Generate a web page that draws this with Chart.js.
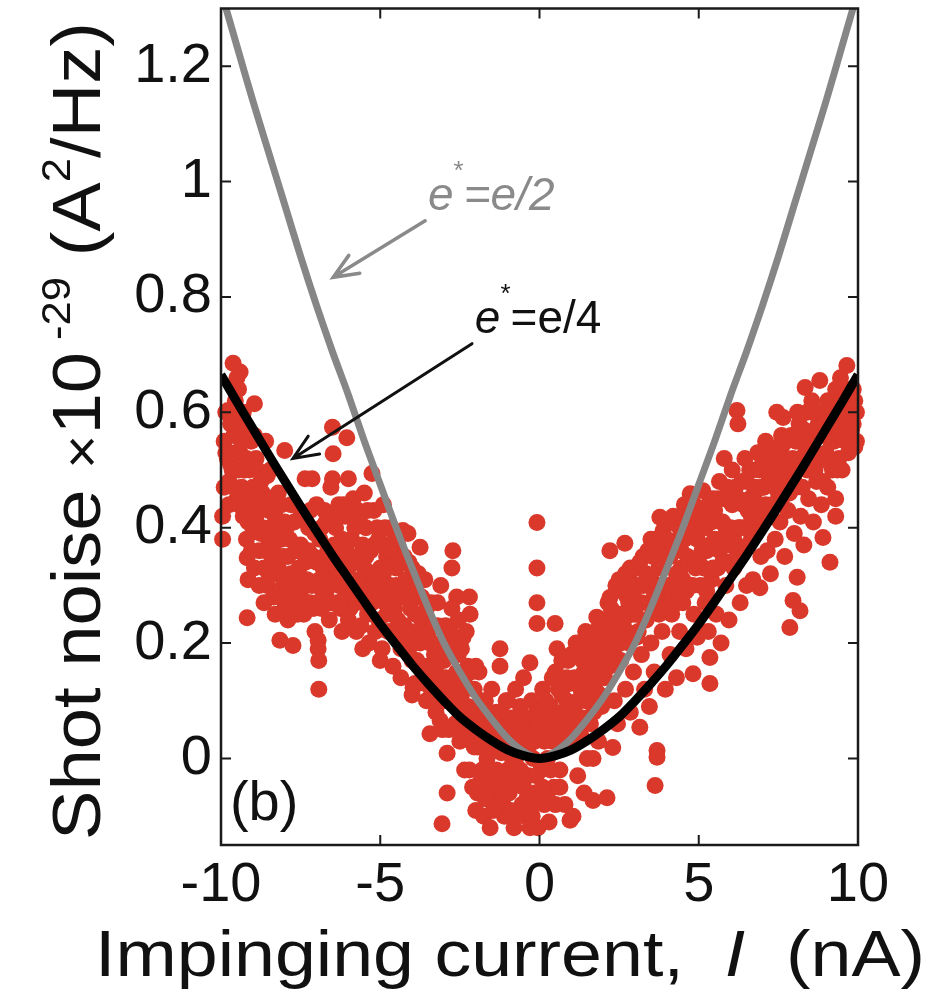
<!DOCTYPE html>
<html>
<head>
<meta charset="utf-8">
<script src="https://cdn.jsdelivr.net/npm/chart.js@4.4.1/dist/chart.umd.min.js"></script>
<style>
  html, body { margin: 0; padding: 0; background: #fff; }
  #wrap { width: 941px; height: 997px; }
</style>
</head>
<body>
<div id="wrap"><canvas id="brus" width="941" height="997"></canvas></div>
<script>
// Tick values on the two axes
const currentTicks = [-10, -5, 0, 5, 10];
const noiseTicks = [0, 0.2, 0.4, 0.6, 0.8, 1, 1.2];

// Theory curves (x in nA, y in 1e-29 A^2/Hz)
const curveCurrent = [-10, -9.5, -9, -8.5, -8, -7.5, -7, -6.5, -6, -5.5, -5, -4.5, -4, -3.5, -3, -2.5, -2, -1.5, -1, -0.5, 0,
                      0.5, 1, 1.5, 2, 2.5, 3, 3.5, 4, 4.5, 5, 5.5, 6, 6.5, 7, 7.5, 8, 8.5, 9, 9.5, 10];
const quarterCharge = [0.665, 0.618, 0.572, 0.526, 0.481, 0.437, 0.394, 0.352, 0.312, 0.272, 0.233, 0.197, 0.162, 0.13, 0.1, 0.072, 0.05, 0.031, 0.015, 0.005, 0,
                       0.005, 0.015, 0.031, 0.05, 0.072, 0.1, 0.13, 0.162, 0.197, 0.233, 0.272, 0.312, 0.352, 0.394, 0.437, 0.481, 0.526, 0.572, 0.618, 0.665];
const halfCharge = [1.33, 1.235, 1.14, 1.05, 0.96, 0.87, 0.785, 0.705, 0.63, 0.55, 0.475, 0.4, 0.33, 0.262, 0.2, 0.15, 0.105, 0.068, 0.035, 0.012, 0,
                    0.012, 0.035, 0.068, 0.105, 0.15, 0.2, 0.262, 0.33, 0.4, 0.475, 0.55, 0.63, 0.705, 0.785, 0.87, 0.96, 1.05, 1.14, 1.235, 1.33];

// Measured shot noise, [current, noise]
const measured = [
  [-9.95,0.42],[-9.95,0.38],[-9.9,0.55],[-9.85,0.6],[-9.8,0.52],[-9.75,0.48],[-9.7,0.58],[-9.65,0.5],[-9.62,0.685],[-9.6,0.56],[-9.55,0.62],[-9.5,0.45],[-9.5,0.66],
  [-9.45,0.64],[-9.4,0.67],[-9.4,0.53],[-9.35,0.47],[-9.3,0.6],[-9.3,0.42],[-9.25,0.5],[-9.2,0.38],[-9.18,0.348],[-9.15,0.31],[-9.18,0.244],[-9.1,0.45],[-9.05,0.55],[-9.0,0.4],
  [-8.95,0.615],[-8.9,0.52],[-8.85,0.44],[-8.8,0.36],[-8.75,0.48],[-8.7,0.4],[-8.65,0.33],[-8.6,0.55],[-8.55,0.3],[-8.5,0.43],[-8.5,0.38],
  [-8.45,0.5],[-8.4,0.35],[-8.35,0.28],[-8.3,0.42],[-8.25,0.32],[-8.2,0.46],[-8.15,0.205],[-8.1,0.38],[-8.05,0.3],[-8.0,0.534],[-8.0,0.26],
  [-7.95,0.4],[-7.9,0.35],[-7.85,0.28],[-7.8,0.44],[-7.74,0.196],[-7.7,0.3],[-7.65,0.37],[-7.6,0.25],[-7.55,0.33],[-7.5,0.42],[-7.5,0.29],
  [-7.45,0.36],[-7.4,0.25],[-7.36,0.485],[-7.3,0.31],[-7.25,0.4],[-7.2,0.27],[-7.14,0.485],[-7.1,0.35],[-7.05,0.22],[-7.0,0.44],[-7.0,0.3],
  [-6.95,0.205],[-6.95,0.19],[-6.93,0.17],[-6.93,0.12],[-6.9,0.38],[-6.85,0.26],[-6.8,0.33],[-6.75,0.43],[-6.7,0.29],[-6.65,0.36],[-6.6,0.24],[-6.55,0.47],[-6.5,0.574],[-6.48,0.528],[-6.5,0.485],
  [-6.45,0.31],[-6.4,0.4],[-6.35,0.27],[-6.3,0.44],[-6.25,0.35],[-6.2,0.22],[-6.15,0.3],[-6.1,0.42],[-6.05,0.556],[-6.0,0.485],[-6.0,0.33],
  [-5.95,0.26],[-5.9,0.38],[-5.85,0.45],[-5.8,0.3],[-5.75,0.22],[-5.7,0.35],[-5.65,0.41],[-5.6,0.28],[-5.55,0.19],[-5.5,0.33],[-5.5,0.46],
  [-5.45,0.4],[-5.4,0.25],[-5.35,0.3],[-5.3,0.36],[-5.26,0.494],[-5.2,0.43],[-5.15,0.22],[-5.1,0.29],[-5.05,0.38],[-5.0,0.33],[-5.0,0.17],
  [-4.94,0.19],[-4.9,0.44],[-4.85,0.27],[-4.8,0.35],[-4.75,0.22],[-4.7,0.3],[-4.65,0.4],[-4.6,0.16],[-4.55,0.26],[-4.5,0.33],[-4.5,0.21],
  [-4.45,0.37],[-4.4,0.29],[-4.35,0.14],[-4.29,0.395],[-4.25,0.23],[-4.2,0.31],[-4.13,0.39],[-4.1,0.18],[-4.05,0.26],[-4.0,0.11],[-4.0,0.33],
  [-3.97,0.123],[-3.91,0.13],[-3.9,0.2],[-3.85,0.28],[-3.75,0.366],[-3.7,0.24],[-3.65,0.16],[-3.6,0.31],[-3.55,0.1],[-3.5,0.21],[-3.44,0.043],
  [-3.4,0.27],[-3.35,0.14],[-3.3,0.18],[-3.25,0.08],[-3.2,0.23],[-3.12,0.066],[-3.1,0.3],[-3.06,-0.113],[-3.05,0.12],[-3.0,0.17],
  [-2.9,0.009],[-2.9,-0.06],[-2.85,0.1],[-2.8,0.22],[-2.75,0.33],[-2.72,0.36],[-2.7,0.14],[-2.65,0.06],[-2.6,0.28],[-2.55,0.18],[-2.5,0.03],
  [-2.45,0.11],[-2.4,0.21],[-2.35,-0.02],[-2.3,0.06],[-2.25,0.16],[-2.2,0.28],[-2.18,0.25],[-2.15,0.04],[-2.1,-0.05],[-2.05,0.12],[-2.0,0.08],[-2.0,-0.09],
  [-1.95,0.02],[-1.9,0.15],[-1.85,-0.04],[-1.8,0.07],[-1.75,-0.1],[-1.7,0.1],[-1.65,0.0],[-1.6,0.05],[-1.55,-0.12],[-1.5,0.12],[-1.5,-0.06],
  [-1.45,0.03],[-1.4,-0.03],[-1.35,0.08],[-1.3,-0.08],[-1.24,0.19],[-1.24,0.16],[-1.2,0.01],[-1.15,0.06],[-1.1,-0.1],[-1.05,0.1],[-1.0,-0.02],[-1.0,0.04],
  [-0.95,-0.06],[-0.9,0.07],[-0.85,0.0],[-0.8,-0.12],[-0.75,0.12],[-0.7,0.03],[-0.65,-0.04],[-0.6,0.09],[-0.55,-0.08],[-0.5,0.02],[-0.5,0.14],
  [-0.45,-0.1],[-0.4,0.05],[-0.35,-0.03],[-0.3,0.166],[-0.25,0.1],[-0.23,-0.1],[-0.2,0.0],[-0.15,-0.06],[-0.1,0.08],[-0.08,0.409],[-0.08,0.33],[-0.08,0.27],[-0.08,0.234],[-0.05,-0.12],[0.0,0.04],
  [0.05,-0.02],[0.1,0.12],[0.15,-0.08],[0.2,0.06],[0.25,0.0],[0.3,-0.11],[0.35,0.09],[0.4,0.03],[0.45,-0.05],[0.49,0.234],[0.5,0.15],
  [0.55,0.19],[0.6,0.07],[0.64,-0.05],[0.64,-0.02],[0.7,0.11],[0.75,0.02],[0.8,-0.08],[0.85,0.14],[0.9,0.17],[0.96,-0.107],[1.0,0.05],
  [1.05,-0.1],[1.1,0.09],[1.15,0.2],[1.2,-0.03],[1.25,0.13],[1.3,0.04],[1.35,0.17],[1.4,-0.06],[1.45,0.22],[1.5,0.1],[1.5,0.0],
  [1.55,0.15],[1.6,0.06],[1.68,0.0],[1.68,-0.073],[1.7,0.2],[1.75,0.12],[1.8,0.245],[1.85,0.03],[1.9,0.17],[1.95,0.09],[2.0,0.22],
  [2.05,0.14],[2.12,-0.068],[2.15,0.27],[2.21,0.36],[2.21,0.279],[2.25,0.19],[2.3,0.019],[2.35,0.1],[2.4,0.24],[2.45,0.06],[2.5,0.31],
  [2.55,0.17],[2.6,0.23],[2.68,0.373],[2.7,0.12],[2.75,0.28],[2.8,0.2],[2.84,0.309],[2.85,0.08],[2.9,0.25],[2.95,0.15],[3.0,0.33],
  [3.05,0.21],[3.1,0.27],[3.15,0.054],[3.2,0.18],[3.25,0.35],[3.3,0.12],[3.35,0.24],[3.4,0.3],[3.45,0.09],[3.5,0.2],[3.5,0.38],
  [3.55,0.26],[3.6,0.15],[3.63,-0.047],[3.69,0.014],[3.69,0.002],[3.75,0.33],[3.78,0.418],[3.78,0.331],[3.85,0.22],[3.88,0.395],[3.95,0.12],[4.0,0.28],
  [4.05,0.36],[4.1,0.18],[4.15,0.25],[4.2,0.42],[4.25,0.3],[4.3,0.14],[4.35,0.38],[4.4,0.22],[4.45,0.33],[4.5,0.27],
  [4.55,0.44],[4.6,0.19],[4.65,0.35],[4.73,0.459],[4.75,0.3],[4.82,0.147],[4.85,0.25],[4.9,0.4],[4.95,0.21],[5.0,0.34],
  [5.1,0.43],[5.1,0.4],[5.13,0.464],[5.13,0.424],[5.2,0.27],[5.25,0.36],[5.3,0.22],[5.35,0.13],[5.35,0.175],[5.4,0.31],[5.45,0.45],[5.5,0.38],
  [5.55,0.25],[5.6,0.33],[5.65,0.48],[5.7,0.2],[5.75,0.41],[5.8,0.52],[5.85,0.3],[5.9,0.37],[5.95,0.24],[6.0,0.45],
  [6.05,0.5],[6.1,0.33],[6.2,0.603],[6.23,0.58],[6.25,0.4],[6.3,0.27],[6.35,0.48],[6.4,0.36],[6.45,0.52],[6.5,0.3],
  [6.55,0.43],[6.6,0.5],[6.65,0.38],[6.7,0.31],[6.75,0.46],[6.8,0.4],[6.85,0.53],[6.92,0.296],[6.95,0.35],[7.0,0.47],
  [7.05,0.42],[7.1,0.55],[7.15,0.36],[7.2,0.49],[7.25,0.32],[7.3,0.44],[7.35,0.51],[7.4,0.38],[7.45,0.6],[7.5,0.46],
  [7.55,0.41],[7.6,0.56],[7.6,0.54],[7.65,0.591],[7.7,0.35],[7.75,0.48],[7.8,0.43],[7.86,0.227],[7.9,0.5],[7.96,0.274],[8.0,0.39],
  [8.05,0.47],[8.09,0.314],[8.1,0.6],[8.18,0.256],[8.2,0.42],[8.25,0.55],[8.3,0.37],[8.34,0.643],[8.4,0.5],[8.45,0.45],
  [8.55,0.62],[8.6,0.41],[8.65,0.53],[8.7,0.48],[8.75,0.58],[8.8,0.655],[8.85,0.44],[8.9,0.383],[8.95,0.52],[9.0,0.6],
  [9.05,0.47],[9.12,0.34],[9.15,0.55],[9.2,0.5],[9.25,0.62],[9.3,0.45],[9.3,0.42],[9.35,0.58],[9.4,0.52],[9.45,0.66],[9.5,0.5],
  [9.53,0.643],[9.55,0.56],[9.6,0.6],[9.65,0.681],[9.7,0.53],[9.75,0.62],[9.8,0.57],[9.85,0.64],[9.9,0.54],[9.95,0.6],
  // second sweep, fills the dense parts of the cloud
  [-9.9,0.47],[-9.85,0.53],[-9.78,0.603],[-9.75,0.44],[-9.7,0.51],[-9.65,0.58],[-9.6,0.47],[-9.55,0.53],[-9.5,0.58],[-9.45,0.5],[-9.45,0.44],
  [-9.4,0.59],[-9.35,0.55],[-9.3,0.5],[-9.25,0.57],[-9.25,0.44],[-9.2,0.52],[-9.15,0.41],[-9.1,0.5],[-9.05,0.36],[-9.0,0.47],[-8.95,0.56],
  [-8.95,0.33],[-8.9,0.42],[-8.85,0.5],[-8.8,0.3],[-8.75,0.39],[-8.7,0.46],[-8.65,0.27],[-8.6,0.36],[-8.6,0.44],[-8.55,0.49],[-8.5,0.32],
  [-8.45,0.4],[-8.4,0.45],[-8.35,0.36],[-8.3,0.25],[-8.25,0.4],[-8.2,0.33],[-8.15,0.28],[-8.1,0.44],[-8.05,0.35],[-8.0,0.41],[-7.95,0.3],
  [-7.9,0.24],[-7.85,0.38],[-7.8,0.32],[-7.75,0.27],[-7.7,0.41],[-7.65,0.31],[-7.6,0.36],[-7.55,0.27],[-7.5,0.37],[-7.45,0.3],[-7.4,0.42],
  [-7.35,0.34],[-7.3,0.27],[-7.25,0.36],[-7.2,0.43],[-7.15,0.3],[-7.1,0.26],[-7.05,0.39],[-7.0,0.34],[-6.95,0.27],[-6.9,0.31],[-6.85,0.4],
  [-6.8,0.28],[-6.75,0.35],[-6.7,0.41],[-6.65,0.3],[-6.6,0.34],[-6.55,0.27],
  [-6.45,0.37],[-6.4,0.33],[-6.35,0.42],[-6.3,0.3],[-6.25,0.26],[-6.2,0.38],[-6.15,0.44],[-6.1,0.28],[-6.05,0.36],[-6.0,0.24],[-5.95,0.42],
  [-5.9,0.3],[-5.85,0.34],[-5.8,0.4],[-5.75,0.27],[-5.7,0.43],[-5.65,0.31],[-5.6,0.23],[-5.55,0.37],[-5.5,0.27],[-5.45,0.35],[-5.4,0.43],
  [-5.35,0.2],[-5.3,0.32],[-5.25,0.27],[-5.2,0.37],[-5.15,0.31],[-5.1,0.4],[-5.05,0.24],[-5.0,0.28],[-4.95,0.37],[-4.9,0.31],[-4.85,0.4],
  [-4.8,0.25],[-4.75,0.33],[-4.7,0.36],[-4.65,0.28],[-4.6,0.22],[-4.55,0.38],[-4.5,0.3],[-4.45,0.24],[-4.4,0.34],[-4.35,0.19],[-4.3,0.28],
  [-4.25,0.35],[-4.2,0.21],[-4.15,0.29],[-4.1,0.34],[-4.05,0.22],[-4.0,0.17],[-3.95,0.3],[-3.9,0.25],[-3.85,0.17],[-3.8,0.32],[-3.75,0.2],
  [-3.7,0.28],[-3.65,0.22],[-3.6,0.13],[-3.55,0.26],[-3.5,0.16],
  [-3.45,0.2],[-3.4,0.12],[-3.35,0.23],[-3.3,0.1],[-3.25,0.16],[-3.2,0.27],[-3.15,0.13],[-3.1,0.2],[-3.05,0.05],[-3.0,0.1],[-2.95,0.23],
  [-2.95,0.14],[-2.9,0.18],[-2.85,0.05],[-2.8,0.12],[-2.75,0.26],[-2.7,0.2],[-2.65,0.1],[-2.6,0.15],[-2.55,0.24],[-2.5,0.08],[-2.5,0.14],
  [-2.45,0.19],[-2.4,0.04],[-2.35,0.13],[-2.3,0.22],[-2.25,0.09],[-2.2,-0.02],[-2.15,0.15],[-2.1,0.08],[-2.05,0.02],[-2.0,0.16],[-1.95,-0.06],
  [-1.9,0.06],[-1.85,0.1],[-1.8,-0.02],[-1.75,0.04],[-1.7,-0.07],[-1.65,0.08],[-1.6,-0.04],[-1.55,0.02],[-1.5,0.06],[-1.45,-0.09],[-1.4,0.05],
  [-1.35,-0.02],[-1.3,0.02],[-1.25,-0.05],[-1.2,0.08],[-1.15,-0.07],[-1.1,0.03],[-1.05,-0.04],[-1.0,0.1],[-0.95,0.02],[-0.9,-0.09],[-0.85,0.05],
  [-0.8,-0.03],[-0.75,0.0],[-0.7,-0.1],[-0.65,0.06],[-0.6,-0.02],[-0.55,0.04],[-0.5,-0.05],[-0.45,0.07],[-0.4,-0.07],[-0.35,0.02],[-0.3,-0.12],
  [-0.25,0.04],[-0.2,-0.08],[-0.15,0.03],[-0.1,-0.03],[-0.05,0.06],[0.0,-0.07],
  [0.05,0.08],[0.1,-0.05],[0.15,0.03],[0.2,0.1],[0.25,-0.07],[0.3,0.05],[0.35,-0.02],[0.4,0.14],[0.45,0.07],[0.5,-0.08],[0.55,0.03],
  [0.6,0.12],[0.65,0.05],[0.7,0.17],[0.75,0.08],[0.8,0.03],[0.85,0.1],[0.9,0.06],[0.95,0.13],[1.0,0.18],[1.05,0.08],[1.1,0.14],
  [1.15,0.03],[1.2,0.1],[1.25,0.19],[1.3,0.12],[1.35,0.07],[1.4,0.15],[1.45,0.1],[1.5,0.18],[1.55,0.21],[1.6,0.13],[1.65,0.17],
  [1.7,0.08],[1.75,0.22],[1.8,0.15],[1.85,0.19],[1.9,0.11],[1.95,0.24],[2.0,0.17],[2.05,0.2],[2.1,0.1],[2.15,0.23],[2.2,0.16],
  [2.25,0.26],[2.3,0.21],[2.35,0.18],[2.4,0.3],[2.45,0.22],[2.5,0.25],[2.55,0.2],[2.6,0.29],[2.65,0.24],[2.7,0.32],[2.75,0.22],
  [2.8,0.27],[2.85,0.33],[2.9,0.21],[2.95,0.29],[3.0,0.25],[3.05,0.3],[3.1,0.22],[3.15,0.34],[3.2,0.27],[3.25,0.3],[3.3,0.24],
  [3.35,0.32],[3.4,0.36],[3.45,0.27],[3.5,0.31],[3.55,0.35],[3.6,0.28],[3.65,0.38],[3.7,0.3],[3.75,0.25],[3.8,0.36],[3.85,0.3],
  [3.9,0.34],[3.95,0.26],[4.0,0.38],[4.05,0.3],[4.1,0.35],[4.15,0.41],[4.2,0.28],[4.25,0.36],[4.3,0.32],[4.35,0.27],[4.4,0.4],
  [4.45,0.36],[4.5,0.31],[4.55,0.38],[4.6,0.29],[4.65,0.42],[4.7,0.34],[4.75,0.39],[4.8,0.3],[4.85,0.44],[4.9,0.33],[4.95,0.38],[5.0,0.42],
  [5.05,0.3],[5.1,0.36],[5.15,0.33],[5.2,0.4],[5.25,0.29],[5.3,0.44],[5.35,0.37],[5.4,0.41],[5.45,0.33],[5.5,0.43],[5.55,0.37],
  [5.6,0.45],[5.65,0.36],[5.7,0.41],[5.75,0.34],[5.8,0.45],[5.85,0.39],[5.9,0.47],[5.95,0.34],[6.0,0.4],[6.05,0.44],[6.1,0.38],
  [6.15,0.47],[6.2,0.35],[6.25,0.45],[6.3,0.4],[6.35,0.36],[6.4,0.44],[6.45,0.4],[6.5,0.48],[6.55,0.37],[6.6,0.45],[6.65,0.42],
  [6.7,0.5],[6.75,0.39],[6.8,0.47],[6.85,0.44],[6.9,0.5],[6.95,0.42],[7.0,0.52],[7.05,0.47],[7.1,0.44],[7.15,0.5],[7.2,0.42],
  [7.25,0.53],[7.3,0.48],[7.35,0.44],[7.4,0.52],[7.45,0.47],[7.5,0.54],[7.55,0.5],[7.6,0.45],[7.65,0.52],[7.7,0.48],[7.75,0.55],
  [7.8,0.51],[7.85,0.46],[7.9,0.56],[7.95,0.52],[8.0,0.48],[8.05,0.55],[8.1,0.5],[8.15,0.58],[8.2,0.52],[8.25,0.47],[8.3,0.57],
  [8.35,0.53],[8.4,0.6],[8.45,0.56],[8.5,0.5],[8.55,0.55],[8.6,0.6],[8.65,0.5],[8.7,0.57],[8.75,0.52],[8.8,0.6],[8.85,0.56],
  [8.9,0.48],[8.95,0.58],[9.0,0.53],[9.05,0.62],[9.1,0.57],[9.15,0.51],[9.2,0.6],[9.25,0.55],[9.3,0.64],[9.35,0.5],[9.4,0.6],
  [9.45,0.56],[9.5,0.62],[9.55,0.6],[9.6,0.55],[9.65,0.63],[9.7,0.58],[9.75,0.56],[9.8,0.62],[9.85,0.58],[9.9,0.62],[9.95,0.55]
];

const FONT = "'Liberation Sans', Arial, Helvetica, sans-serif";

// Turn two lists into {x, y} pairs for Chart.js
function pairs(xs, ys) {
  return xs.map((x, i) => ({ x: x, y: ys[i] }));
}

// Draws a line with an open arrow head at (tx, ty)
function arrow(ctx, sx, sy, tx, ty, color, width) {
  const ang = Math.atan2(sy - ty, sx - tx);
  const len = 27, spread = 0.4;
  ctx.strokeStyle = color;
  ctx.lineWidth = width;
  ctx.lineCap = 'round';
  ctx.beginPath();
  ctx.moveTo(sx, sy);
  ctx.lineTo(tx, ty);
  ctx.moveTo(tx + len * Math.cos(ang - spread), ty + len * Math.sin(ang - spread));
  ctx.lineTo(tx, ty);
  ctx.lineTo(tx + len * Math.cos(ang + spread), ty + len * Math.sin(ang + spread));
  ctx.stroke();
}

// Writes a run of text pieces, each with its own font and vertical shift
function writeRun(ctx, parts, x, y) {
  let cx = x;
  parts.forEach(p => {
    ctx.font = p.font;
    ctx.fillText(p.text, cx, y + (p.dy || 0));
    cx += ctx.measureText(p.text).width;
  });
}

function runWidth(ctx, parts) {
  let w = 0;
  parts.forEach(p => { ctx.font = p.font; w += ctx.measureText(p.text).width; });
  return w;
}

// "e*=e/..." label: italic e, small star, rest of the text
function chargeLabel(ctx, xVal, yVal, rest, restItalic, color, chart) {
  const px = chart.scales.x.getPixelForValue(xVal);
  const py = chart.scales.y.getPixelForValue(yVal);
  ctx.fillStyle = color;
  ctx.textBaseline = 'alphabetic';
  ctx.textAlign = 'left';
  writeRun(ctx, [
    { text: 'e', font: 'italic 46px ' + FONT },
    { text: '*', font: '26px ' + FONT, dy: -31 },
    { text: rest, font: (restItalic ? 'italic ' : '') + '46px ' + FONT }
  ], px, py);
}

const framePlugin = {
  id: 'frame',
  afterDatasetsDraw(chart) {
    const { ctx, chartArea: a, scales: { x, y } } = chart;
    ctx.save();

    // annotation arrows and labels
    arrow(ctx, x.getPixelForValue(-3.59), y.getPixelForValue(0.932),
               x.getPixelForValue(-6.48), y.getPixelForValue(0.834), '#8a8a8a', 3.5);
    chargeLabel(ctx, -3.5, 0.95, '=e/2', true, '#8a8a8a', chart);
    arrow(ctx, x.getPixelForValue(-2.12), y.getPixelForValue(0.719),
               x.getPixelForValue(-7.74), y.getPixelForValue(0.52), '#111', 3);
    chargeLabel(ctx, -2.03, 0.738, '=e/4', false, '#111', chart);

    ctx.fillStyle = '#111';
    ctx.font = '56px ' + FONT;
    ctx.fillText('(b)', x.getPixelForValue(-9.72), y.getPixelForValue(-0.107));

    // box and inward ticks on all four sides
    ctx.strokeStyle = '#1a1a1a';
    ctx.lineCap = 'butt';
    ctx.lineWidth = 2.5;
    ctx.strokeRect(a.left, a.top, a.right - a.left, a.bottom - a.top);
    ctx.lineWidth = 2;
    ctx.beginPath();
    currentTicks.forEach(v => {
      const px = x.getPixelForValue(v);
      ctx.moveTo(px, a.bottom); ctx.lineTo(px, a.bottom - 10);
      ctx.moveTo(px, a.top); ctx.lineTo(px, a.top + 10);
    });
    noiseTicks.forEach(v => {
      const py = y.getPixelForValue(v);
      ctx.moveTo(a.left, py); ctx.lineTo(a.left + 10, py);
      ctx.moveTo(a.right, py); ctx.lineTo(a.right - 10, py);
    });
    ctx.stroke();

    // axis titles
    ctx.fillStyle = '#111';
    const xParts = [
      { text: 'Impinging current,  ', font: '64px ' + FONT },
      { text: 'I', font: 'italic 64px ' + FONT },
      { text: '  (nA)', font: '64px ' + FONT }
    ];
    const xw = runWidth(ctx, xParts);
    ctx.save();
    ctx.translate(95, 976);
    ctx.scale(830 / xw, 1);
    writeRun(ctx, xParts, 0, 0);
    ctx.restore();

    const yParts = [
      { text: 'Shot noise ', font: '68px ' + FONT },
      { text: '\u00d7', font: '54px ' + FONT },
      { text: '10', font: '68px ' + FONT },
      { text: ' -29', font: '40px ' + FONT, dy: -30 },
      { text: ' (A', font: '68px ' + FONT },
      { text: '2', font: '40px ' + FONT, dy: -30 },
      { text: '/Hz)', font: '68px ' + FONT }
    ];
    const yw = runWidth(ctx, yParts);
    ctx.save();
    ctx.translate(100, 840);
    ctx.rotate(-Math.PI / 2);
    ctx.scale(818 / yw, 1);
    writeRun(ctx, yParts, 0, 0);
    ctx.restore();

    ctx.restore();
  }
};

const Brus = {};
Brus.ctx = document.getElementById('brus').getContext('2d');
Brus.chart = new Chart(Brus.ctx, {
  type: 'scatter',
  data: {
    datasets: [
      {
        label: 'e*=e/4',
        data: pairs(curveCurrent, quarterCharge),
        showLine: true,
        borderColor: '#000',
        borderWidth: 9,
        pointRadius: 0,
        tension: 0.3,
        clip: 0,
        order: 0
      },
      {
        label: 'e*=e/2',
        data: pairs(curveCurrent, halfCharge),
        showLine: true,
        borderColor: '#868686',
        borderWidth: 7,
        pointRadius: 0,
        tension: 0.3,
        clip: 0,
        order: 1
      },
      {
        label: 'measured',
        data: measured.map(p => ({ x: p[0], y: p[1] })),
        backgroundColor: '#d9382a',
        borderWidth: 0,
        pointRadius: 8.5,
        clip: false,
        order: 2
      }
    ]
  },
  options: {
    responsive: false,
    animation: false,
    devicePixelRatio: 1,
    layout: { padding: { top: 8, right: 83, left: 0, bottom: 0 } },
    plugins: { legend: { display: false }, tooltip: { enabled: false } },
    scales: {
      x: {
        type: 'linear',
        min: -10,
        max: 10,
        grid: { display: false, drawTicks: false },
        border: { display: false },
        ticks: {
          padding: 7,
          color: '#111',
          font: { family: FONT, size: 56 },
          callback: v => String(v)
        },
        afterBuildTicks: axis => { axis.ticks = currentTicks.map(v => ({ value: v })); },
        afterFit: axis => { axis.height = 152; axis.paddingLeft = 0; axis.paddingRight = 0; }
      },
      y: {
        type: 'linear',
        min: -0.15,
        max: 1.3,
        grid: { display: false, drawTicks: false },
        border: { display: false },
        ticks: {
          padding: 9,
          color: '#111',
          font: { family: FONT, size: 56 },
          callback: v => String(v)
        },
        afterBuildTicks: axis => { axis.ticks = noiseTicks.map(v => ({ value: v })); },
        afterFit: axis => { axis.width = 221; axis.paddingTop = 0; axis.paddingBottom = 0; }
      }
    }
  },
  plugins: [framePlugin]
});
</script>
</body>
</html>
